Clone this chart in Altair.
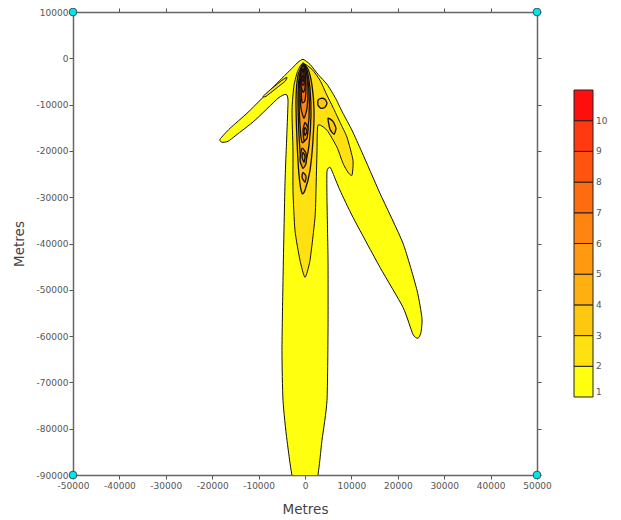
import altair as alt
import pandas as pd

# ---- colour levels (contour interval 1, levels 1..11) ----
LEVEL_COLORS = ["#FFFF10", "#FFE010", "#FFC810", "#FFB010", "#FF9A10",
                "#FF8410", "#FF6C10", "#FF5410", "#FF3A10", "#FF0E0E"]
X_TICKS = [-50000, -40000, -30000, -20000, -10000, 0, 10000, 20000, 30000, 40000, 50000]
Y_TICKS = [10000, 0, -10000, -20000, -30000, -40000, -50000, -60000, -70000, -80000, -90000]

# grid corner markers (metres)
CORNER_X = [-50000, 50000, -50000, 50000]
CORNER_Y = [10000, 10000, -90000, -90000]

# ---- contour polygons (metres) ----
L1_X = [-430, 1080, 2800, 4740, 6470, 8190, 10130, 12280, 16160, 21120, 24140, 25210,
        25000, 24350, 23270, 21120, 16160, 10340, 7540, 6030, 5390, 4740, 4740, 4960,
        4960, 4740, 3660, 2300, -2260, -3880, -4740, -4960, -4740, -4310, -3880, -3660,
        -4100, -5820, -10780, -14870, -16590, -17890, -18320, -16160, -12280, -6470,
        -2590, -1510]
L1_Y = [-220, -1300, -3460, -5620, -8420, -11880, -15550, -20300, -29160, -39960, -50110,
        -56160, -59180, -60480, -59620, -53780, -45140, -34340, -28510, -24840, -23540,
        -24410, -30670, -43630, -58750, -73870, -82510, -92000, -92000, -82510, -73870,
        -63070, -47950, -27000, -15550, -9070, -7780, -8640, -13390, -16630, -17930,
        -18140, -17500, -15120, -11660, -5830, -1940, -860]

L2A_X = [-430, 1510, 3230, 4740, 6030, 7540, 9050, 10340, 10130, 9270, 8190, 6900, 4740,
         2800, 2590, 2370, 2160, 1080, 0, -1080, -2160, -2590, -2590, -2800, -2370, -1510]
L2A_Y = [-1080, -2380, -4750, -7990, -10580, -13820, -17060, -22030, -25270, -24620,
         -22680, -19220, -15550, -14470, -19870, -28510, -34340, -43630, -47300, -43630,
         -37150, -28510, -19870, -11230, -5830, -2590]
L2B_X = [-9050, -7110, -4960, -3880, -4310, -6470, -8410]
L2B_Y = [-8210, -6480, -4750, -4100, -4970, -6700, -8210]

L3A_X = [-430, 650, 1510, 1940, 1720, 1080, 0, -650, -1290, -1720, -1940, -1510]
L3A_Y = [-1300, -2380, -5830, -11230, -17710, -24190, -28510, -29160, -25270, -17710,
         -9070, -3670]
L3B_X = [2800, 3450, 4310, 4740, 4310, 3450, 2800]
L3B_Y = [-9070, -8640, -8860, -9720, -10580, -10800, -10150]
L3C_X = [4960, 6030, 6680, 6250, 5390]
L3C_Y = [-12960, -13610, -15120, -16420, -15340]

L4A_X = [-430, 430, 1080, 1290, 860, 0, -860, -1290, -1510, -1290]
L4A_Y = [-1300, -2590, -6480, -12310, -18790, -23110, -22030, -16630, -9070, -4320]
L4B_X = [-430, 220, 0, -650]
L4B_Y = [-24620, -25490, -26780, -25700]

L5A_X = [-430, 220, 860, 860, 220, -650, -1080, -1290, -1080]
L5A_Y = [-1080, -2590, -6910, -12960, -17280, -18140, -14470, -8640, -3670]
L5B_X = [-650, 220, 220, -430, -1080]
L5B_Y = [-19440, -20520, -22680, -23760, -22030]

L6A_X = [-430, 220, 650, 430, -220, -860, -1080, -860]
L6A_Y = [-1080, -2590, -6480, -10800, -12960, -10800, -6480, -3020]
L6B_X = [0, 650, 430, -220, -430]
L6B_Y = [-13820, -15120, -17280, -17710, -15550]
L6C_X = [-430, 0, -220, -650]
L6C_Y = [-20300, -21170, -22460, -21380]

L7A_X = [-430, 0, 220, 0, -650, -860, -860]
L7A_Y = [-1080, -2590, -5830, -9070, -9500, -5830, -2590]
L7B_X = [0, 430, 0, -220]
L7B_Y = [-14900, -15770, -16630, -15770]

L8_X = [-430, 0, 0, -430, -860, -860]
L8_Y = [-1300, -3020, -6480, -7340, -5830, -3020]

L9_X = [-430, -220, -220, -650, -650]
L9_Y = [-2160, -3460, -5620, -5620, -3460]

L10_X = [-430, -220, -430, -650]
L10_Y = [-3670, -4320, -4970, -4320]

POLYGONS = [
    (1, "1", L1_X, L1_Y),
    (2, "2a", L2A_X, L2A_Y), (2, "2b", L2B_X, L2B_Y),
    (3, "3a", L3A_X, L3A_Y), (3, "3b", L3B_X, L3B_Y), (3, "3c", L3C_X, L3C_Y),
    (4, "4a", L4A_X, L4A_Y), (4, "4b", L4B_X, L4B_Y),
    (5, "5a", L5A_X, L5A_Y), (5, "5b", L5B_X, L5B_Y),
    (6, "6a", L6A_X, L6A_Y), (6, "6b", L6B_X, L6B_Y), (6, "6c", L6C_X, L6C_Y),
    (7, "7a", L7A_X, L7A_Y), (7, "7b", L7B_X, L7B_Y),
    (8, "8", L8_X, L8_Y),
    (9, "9", L9_X, L9_Y),
    (10, "10", L10_X, L10_Y),
]

rows = []
for lvl, pid, xs, ys in POLYGONS:
    for i, (x, y) in enumerate(zip(xs, ys)):
        rows.append({"level": lvl, "val": lvl + 0.5, "poly": pid, "i": i, "x": x, "y": y})
poly_df = pd.DataFrame(rows)
corner_df = pd.DataFrame({"x": CORNER_X, "y": CORNER_Y})

FONT = "DejaVu Sans"
xscale = alt.Scale(domain=[-50000, 50000], nice=False, zero=False)
yscale = alt.Scale(domain=[-90000, 10000], nice=False, zero=False)
fill_scale = alt.Scale(type="quantize", domain=[1, 11], range=LEVEL_COLORS)

legend = alt.Legend(
    type="gradient", orient="none", legendX=501, legendY=78, direction="vertical",
    gradientLength=307, gradientThickness=19, title=None, padding=0,
    labelFont=FONT, labelFontSize=9, labelColor="#555", labelOffset=3,
    labelOverlap=False, gradientStrokeColor="#222", gradientStrokeWidth=1,
    labelExpr="datum.value < 1.5 ? '1' : (datum.value > 10.5 ? '' : format(datum.value, 'd'))",
)

axis_common = dict(
    labelFont=FONT, labelFontSize=9, labelColor="#555", tickColor="#555",
    tickSize=4, tickWidth=1, domainColor="#666", domainWidth=1.5, grid=False,
    labelFlush=False, labelOverlap=False,
    titleFont=FONT, titleFontSize=13.5, titleFontWeight="normal", titleColor="#444",
)

layers = []
for lvl in range(1, 11):
    layers.append(
        alt.Chart(poly_df)
        .transform_filter(alt.datum.level == lvl)
        .mark_line(stroke="#111", strokeWidth=1.0 if lvl <= 2 else 1.3,
                   interpolate="cardinal-closed", tension=0.4, clip=True)
        .encode(
            x=alt.X("x:Q", scale=xscale, axis=None),
            y=alt.Y("y:Q", scale=yscale, axis=None),
            order=alt.Order("i:Q"),
            detail="poly:N",
            fill=alt.Fill("val:Q", scale=fill_scale, legend=legend),
        )
    )

frame_tr = alt.Chart(corner_df).mark_point(opacity=0).encode(
    x=alt.X("x:Q", scale=xscale,
            axis=alt.Axis(orient="top", values=X_TICKS, labels=False, title=None, **axis_common)),
    y=alt.Y("y:Q", scale=yscale,
            axis=alt.Axis(orient="right", values=Y_TICKS, labels=False, title=None, **axis_common)),
)

corners = alt.Chart(corner_df).mark_point(
    filled=True, fill="#00E5EE", stroke="#333", strokeWidth=0.8, size=60, opacity=1
).encode(
    x=alt.X("x:Q", scale=xscale,
            axis=alt.Axis(orient="bottom", values=X_TICKS, title="Metres",
                          labelPadding=2, titlePadding=12,
                          labelExpr="'' + datum.value", **axis_common)),
    y=alt.Y("y:Q", scale=yscale,
            axis=alt.Axis(orient="left", values=Y_TICKS, title="Metres",
                          labelPadding=1, titlePadding=10,
                          labelExpr="'' + datum.value", **axis_common)),
)

chart = (
    alt.layer(*layers, frame_tr, corners)
    .resolve_axis(x="independent", y="independent")
    .properties(
        width=464, height=463,
        autosize=alt.AutoSizeParams(type="none"),
        padding={"left": 65, "top": 4, "right": 75, "bottom": 40},
        background="white",
    )
    .configure_view(stroke=None)
)

chart.save("out.html", embed_options={"renderer": "svg", "actions": False})
